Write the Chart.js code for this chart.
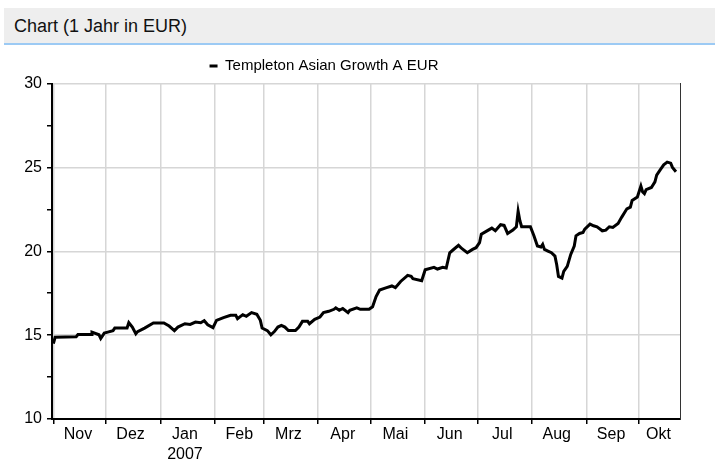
<!DOCTYPE html>
<html lang="de">
<head>
<meta charset="utf-8">
<title>Chart (1 Jahr in EUR)</title>
<script src="https://cdn.jsdelivr.net/npm/chart.js@4.4.0/dist/chart.umd.min.js"></script>
<style>
  body { margin: 0; background: #fff; font-family: Arial, "Liberation Sans", sans-serif; }
  .cabecalho {
    position: absolute; left: 4px; top: 8px; right: 0; height: 35px;
    background: #eeeeee; border-bottom: 2px solid #9ccaf4;
  }
  .cabecalho h1 { margin: 0; padding-left: 10px; font-size: 18px; font-weight: normal; line-height: 36px; color: #111; }
  .grafico { position: absolute; left: 0; top: 47px; width: 715px; height: 414px; }
</style>
</head>
<body>
<div class="cabecalho"><h1>Chart (1 Jahr in EUR)</h1></div>
<div class="grafico"><canvas id="myChart"></canvas></div>

<script>
// Fonds
const fundName = 'Templeton Asian Growth A EUR';

// Tage seit 1. Nov 2006 und Kurs (EUR)
const dias = [0, 1, 13, 14, 22, 22, 26, 27, 29, 31, 34, 35, 42, 43, 45, 47, 48, 52, 57, 63,
  66, 69, 71, 75, 78, 81, 84, 86, 88, 91, 93, 97, 101, 104, 105, 108, 110, 113, 116, 118,
  119, 122, 124, 126, 128, 130, 132, 134, 138, 140, 142, 145, 146, 149, 152, 154, 157, 160, 161, 163,
  165, 168, 169, 173, 175, 180, 182, 184, 186, 190, 193, 195, 198, 202, 204, 205, 210, 212, 217, 219,
  222, 224, 226, 228, 231, 233, 236, 239, 241, 243, 244, 248, 250, 252, 255, 257, 259, 262, 264, 265,
  266, 267, 272, 274, 276, 278, 279, 280, 282, 284, 286, 287, 288, 290, 291, 293, 295, 297, 298, 300,
  302, 303, 306, 308, 310, 313, 315, 317, 319, 322, 324, 327, 329, 330, 333, 335, 336, 337, 338, 341,
  343, 344, 346, 348, 350, 352, 353, 355];
const valores = [14.5, 14.88, 14.9, 15.03, 15.03, 15.18, 15.02, 14.8, 15.12, 15.18, 15.27, 15.42, 15.42, 15.74, 15.48, 15.08, 15.21, 15.42, 15.72, 15.72,
  15.54, 15.27, 15.48, 15.68, 15.64, 15.78, 15.74, 15.86, 15.62, 15.45, 15.88, 16.04, 16.18, 16.18, 15.98, 16.22, 16.12, 16.34, 16.24, 15.88,
  15.42, 15.27, 15.02, 15.21, 15.48, 15.58, 15.48, 15.27, 15.27, 15.48, 15.82, 15.82, 15.68, 15.94, 16.08, 16.34, 16.42, 16.54, 16.63, 16.48,
  16.59, 16.34, 16.48, 16.63, 16.54, 16.54, 16.69, 17.3, 17.69, 17.83, 17.93, 17.83, 18.2, 18.56, 18.5, 18.36, 18.24, 18.9, 19.04, 18.94,
  19.04, 19.0, 19.91, 20.09, 20.35, 20.15, 19.91, 20.11, 20.21, 20.51, 21.01, 21.26, 21.38, 21.22, 21.58, 21.54, 21.06, 21.26, 21.46, 22.39,
  21.82, 21.46, 21.46, 20.92, 20.31, 20.25, 20.41, 20.11, 20.01, 19.91, 19.71, 19.2, 18.5, 18.4, 18.8, 19.1, 19.81, 20.31, 20.92, 21.06,
  21.12, 21.32, 21.62, 21.52, 21.46, 21.22, 21.26, 21.46, 21.42, 21.66, 22.02, 22.53, 22.63, 23.03, 23.23, 23.88, 23.53, 23.43, 23.67, 23.8,
  24.14, 24.54, 24.85, 25.15, 25.31, 25.25, 25.0, 24.74];

// Monatsanfaenge (Gitterlinien) und Position der Monatsnamen
const monthStarts = [0, 30, 61, 92, 120, 151, 181, 212, 242, 273, 304, 334];
const labelDays = [14, 44, 75, 106, 134, 165, 195, 226, 256, 287, 318, 345];
const monthLabels = ['Nov', 'Dez', ['Jan', '2007'], 'Feb', 'Mrz', 'Apr', 'Mai', 'Jun', 'Jul', 'Aug', 'Sep', 'Okt'];

// Y-Achse
const yTicks = [10, 12.5, 15, 17.5, 20, 22.5, 25, 27.5, 30];

const fonte = 'Arial, "Liberation Sans", sans-serif';
const cinzaGrade = '#d6d6d6';

// move a legenda um alguns pixels para a esquerda
const moveLegenda = {
  id: 'moveLegenda',
  afterLayout(chart) {
    chart.legend.left -= 16;
    chart.legend.right -= 16;
  }
};

const ctx = document.getElementById('myChart');
new Chart(ctx, {
  type: 'line',
  data: {
    datasets: [{
      label: fundName,
      data: dias.map((d, i) => ({ x: d, y: valores[i] })),
      borderColor: '#000',
      backgroundColor: '#000',
      borderWidth: 3,
      pointRadius: 0,
      tension: 0
    }]
  },
  options: {
    animation: false,
    responsive: true,
    maintainAspectRatio: false,
    layout: { padding: { top: 7, right: 35, left: 0, bottom: 0 } },
    plugins: {
      tooltip: { enabled: false },
      legend: {
        labels: {
          boxWidth: 8,
          boxHeight: 3,
          padding: 4.5,
          color: '#000',
          font: { family: fonte, size: 15 },
          generateLabels(chart) {
            const items = Chart.defaults.plugins.legend.labels.generateLabels(chart);
            items.forEach(function(it) { it.lineWidth = 0; it.fillStyle = '#000'; });
            return items;
          }
        }
      }
    },
    scales: {
      x: {
        type: 'linear',
        min: -0.8,
        max: 357.3,
        afterBuildTicks: function(scale) {
          scale.ticks = monthStarts.concat(labelDays).sort((a, b) => a - b).map(v => ({ value: v }));
        },
        afterFit: function(scale) { scale.height = 42; },
        ticks: {
          autoSkip: false,
          maxRotation: 0,
          padding: 1,
          color: '#000',
          font: { family: fonte, size: 16, lineHeight: 1.25 },
          callback: function(value) {
            const k = labelDays.indexOf(value);
            return k >= 0 ? monthLabels[k] : '';
          }
        },
        grid: {
          color: c => (c.tick && c.tick.label) ? 'transparent' : cinzaGrade,
          tickColor: c => (c.tick && c.tick.label) ? 'transparent' : '#000',
          lineWidth: 1.5,
          tickLength: 5
        },
        border: { color: '#000', width: 2 }
      },
      y: {
        min: 10,
        max: 30,
        afterBuildTicks: function(scale) {
          scale.ticks = yTicks.map(v => ({ value: v }));
        },
        afterFit: function(scale) { scale.width = 52; },
        ticks: {
          padding: 5,
          color: '#000',
          font: { family: fonte, size: 16 },
          callback: v => (v % 5 === 0 ? v : '')
        },
        grid: {
          color: c => (c.tick && c.tick.value % 5 === 0) ? cinzaGrade : 'transparent',
          tickColor: '#000',
          lineWidth: 1.5,
          tickLength: 5
        },
        border: { color: '#000', width: 2 }
      },
      y2: {
        position: 'right',
        min: 0,
        max: 1,
        afterFit: function(scale) { scale.width = 0; },
        ticks: { display: false },
        grid: { display: false },
        border: { color: '#333', width: 1 }
      }
    }
  },
  plugins: [moveLegenda]
});
</script>
</body>
</html>
